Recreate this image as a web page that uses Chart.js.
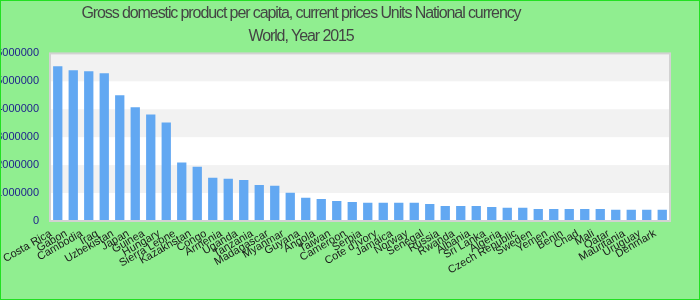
<!DOCTYPE html>
<html>
<head>
<meta charset="utf-8">
<script src="https://cdn.jsdelivr.net/npm/chart.js@4.4.0/dist/chart.umd.min.js"></script>
<style>
  html, body { margin: 0; padding: 0; background: #90ee90; }
  #wrap { width: 698px; height: 298px; border: 1px solid #22e022; position: relative; }
  canvas { display: block; }
</style>
</head>
<body>
<div id="wrap"><canvas id="chart" width="698" height="298"></canvas></div>
<script>
const countries = ['Costa Rica', 'Gabon', 'Cambodia', 'Iraq', 'Uzbekistan', 'Japan', 'Guinea', 'Hungary',
  'Sierra Leone', 'Kazakhstan', 'Congo', 'Armenia', 'Uganda', 'Tanzania', 'Madagascar', 'Myanmar',
  'Guyana', 'Angola', 'Taiwan', 'Cameroon', 'Serbia', "Cote d'Ivory", 'Jamaica', 'Norway', 'Senegal',
  'Russia', 'Rwanda', 'Albania', 'Sri Lanka', 'Algeria', 'Czech Republic', 'Sweden', 'Yemen', 'Benin',
  'Chad', 'Mali', 'Qatar', 'Mauritania', 'Uruguay', 'Denmark'];

const gdpPerCapita = [5540000, 5400000, 5360000, 5290000, 4500000, 4070000, 3810000, 3530000,
  2090000, 1940000, 1550000, 1510000, 1470000, 1290000, 1260000, 1010000,
  830000, 790000, 720000, 680000, 650000, 650000, 650000, 650000, 610000,
  540000, 540000, 540000, 500000, 470000, 470000, 430000, 430000, 430000,
  430000, 430000, 400000, 400000, 400000, 400000];

const yTicks = [0, 1000000, 2000000, 3000000, 4000000, 5000000, 6000000];

// alternating bands behind the bars + light frame round the plot
const plotBands = {
  id: 'plotBands',
  afterLayout(chart) {
    // title sits left of the plot centre in the original, and is narrow
    const tb = chart.titleBlock;
    tb.left = 0;
    tb.right = 600;
    if (!tb._narrow) {
      const draw = tb.draw.bind(tb);
      tb.draw = (area) => {
        chart.ctx.save();
        chart.ctx.letterSpacing = '-1.1px';
        draw(area);
        chart.ctx.restore();
      };
      tb._narrow = true;
    }
  },
  beforeDraw(chart) {
    const { ctx, chartArea: a, scales: { y } } = chart;
    ctx.save();
    ctx.fillStyle = '#ffffff';
    ctx.fillRect(a.left, a.top, a.width, a.height);
    for (let i = 0; i < yTicks.length - 1; i++) {
      if ((yTicks.length - 2 - i) % 2 !== 0) continue;
      const top = y.getPixelForValue(yTicks[i + 1]);
      const bottom = y.getPixelForValue(yTicks[i]);
      ctx.fillStyle = '#f2f2f2';
      ctx.fillRect(a.left, top, a.width, bottom - top);
    }
    ctx.restore();
  },
  afterDraw(chart) {
    const { ctx, chartArea: a } = chart;
    ctx.save();
    ctx.strokeStyle = '#d2d2d2';
    ctx.lineWidth = 2;
    ctx.strokeRect(a.left, a.top, a.width, a.height);
    ctx.restore();
  }
};

new Chart(document.getElementById('chart'), {
  type: 'bar',
  data: {
    labels: countries,
    datasets: [{
      data: gdpPerCapita,
      backgroundColor: '#62a8f2',
      barPercentage: 0.6,
      categoryPercentage: 1
    }]
  },
  options: {
    responsive: false,
    animation: false,
    layout: { padding: { top: 0, right: 29, bottom: 0, left: 0 } },
    plugins: {
      legend: { display: false },
      tooltip: { enabled: false },
      title: {
        display: true,
        text: ['Gross domestic product per capita, current prices Units National currency', 'World, Year 2015'],
        color: '#444444',
        font: { family: "'Liberation Sans', Arial, sans-serif", size: 16, weight: 'normal', lineHeight: 1.45 },
        padding: { top: 1, bottom: 5 }
      }
    },
    scales: {
      x: {
        grid: { display: false, drawTicks: false },
        border: { display: false },
        ticks: {
          color: '#1a1a1a',
          font: { family: "'Liberation Sans', Arial, sans-serif", size: 11 },
          minRotation: 30, maxRotation: 30, autoSkip: false,
          padding: 6, labelOffset: -7
        },
        afterFit(scale) { scale.height = 78; }
      },
      y: {
        min: 0, max: 6000000,
        grid: { display: false, drawTicks: false },
        border: { display: false },
        ticks: {
          stepSize: 1000000,
          color: '#1c1c8c',
          font: { family: "'Liberation Sans', Arial, sans-serif", size: 11 },
          padding: 11,
          callback: v => String(v)
        },
        afterFit(scale) { scale.width = 49; }
      }
    }
  },
  plugins: [plotBands]
});
</script>
</body>
</html>
